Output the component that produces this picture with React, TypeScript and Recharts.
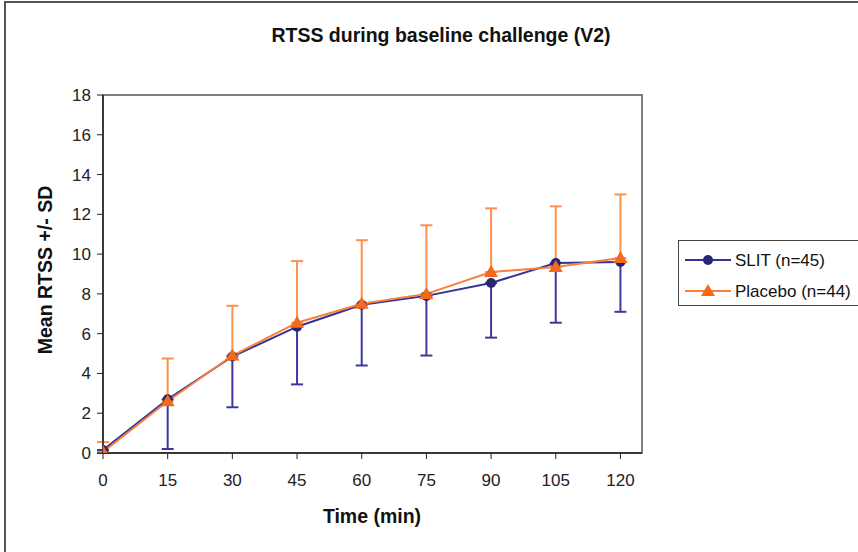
import { ErrorBar, Line, LineChart, ReferenceArea, XAxis, YAxis } from 'recharts';

const times = [0, 15, 30, 45, 60, 75, 90, 105, 120];
const slitMean = [0.15, 2.7, 4.85, 6.35, 7.45, 7.9, 8.55, 9.55, 9.6];
const slitSd = [0.15, 2.5, 2.55, 2.9, 3.05, 3.0, 2.75, 3.0, 2.5];
const placeboMean = [0.05, 2.6, 4.9, 6.55, 7.5, 8.0, 9.1, 9.35, 9.8];
const placeboSd = [0.5, 2.15, 2.5, 3.1, 3.2, 3.45, 3.2, 3.05, 3.2];
const xTicks = [0, 15, 30, 45, 60, 75, 90, 105, 120];
const yTicks = [0, 2, 4, 6, 8, 10, 12, 14, 16, 18];

// SLIT bars go down only, placebo bars go up only
const data = times.map((t, i) => ({
  t,
  slit: slitMean[i],
  slitErr: [slitSd[i], 0],
  placebo: placeboMean[i],
  placeboErr: [0, placeboSd[i]],
}));

const FONT = '"Liberation Sans", Arial, sans-serif';
const BLUE = '#333399';
const ORANGE = '#F7803A';
const TICK = { fill: '#222', fontSize: 17, fontFamily: FONT };

const Triangle = (props: any) => {
  const { cx, cy } = props;
  if (cx == null || cy == null) return null;
  return (
    <polygon
      points={`${cx},${cy - 7} ${cx - 7},${cy + 5} ${cx + 7},${cy + 5}`}
      fill="#F26A1A"
    />
  );
};

const LegendBox = () => (
  <div
    style={{
      position: 'absolute',
      left: 678,
      top: 240,
      width: 190,
      height: 66,
      border: '1.5px solid #444',
      background: '#fff',
      boxSizing: 'border-box',
    }}
  >
    <svg width={190} height={64} style={{ display: 'block' }}>
      <line x1={6} y1={19} x2={52} y2={19} stroke={BLUE} strokeWidth={2} />
      <circle cx={29} cy={19} r={5} fill="#262673" />
      <text x={56} y={25} fontSize={17} fontFamily={FONT} fill="#111">
        SLIT (n=45)
      </text>
      <line x1={6} y1={50} x2={52} y2={50} stroke={ORANGE} strokeWidth={2} />
      <polygon points="29,43 22,55 36,55" fill="#F26A1A" />
      <text x={56} y={56} fontSize={17} fontFamily={FONT} fill="#111">
        Placebo (n=44)
      </text>
    </svg>
  </div>
);

export default function App() {
  return (
    <div style={{ position: 'absolute', left: 0, top: 0, width: 858, height: 552, overflow: 'hidden', background: '#fff' }}>
      <svg width={858} height={552} style={{ position: 'absolute', left: 0, top: 0 }}>
        <rect x={5} y={2} width={900} height={600} fill="#fff" stroke="#555" strokeWidth={2} />
        <text x={441} y={42} textAnchor="middle" fontFamily={FONT} fontWeight="bold" fontSize={19.5} fill="#111">
          RTSS during baseline challenge (V2)
        </text>
        <text x={372} y={523} textAnchor="middle" fontFamily={FONT} fontWeight="bold" fontSize={19.5} fill="#111">
          Time (min)
        </text>
        <text
          x={52}
          y={270}
          textAnchor="middle"
          fontFamily={FONT}
          fontWeight="bold"
          fontSize={19.5}
          fill="#111"
          transform="rotate(-90, 52, 270)"
        >
          Mean RTSS +/- SD
        </text>
      </svg>
      <div style={{ position: 'absolute', left: 0, top: 0 }}>
        <LineChart width={858} height={552} data={data} margin={{ top: 95, right: 216, bottom: 59, left: 0 }}>
          <ReferenceArea x1={0} x2={125} y1={0} y2={18} fill="none" stroke="#555" strokeWidth={1.5} ifOverflow="visible" />
          <XAxis
            dataKey="t"
            type="number"
            domain={[0, 125]}
            ticks={xTicks}
            height={40}
            tick={TICK}
            tickSize={6}
            tickMargin={15}
            axisLine={{ stroke: '#222', strokeWidth: 1.5 }}
            tickLine={{ stroke: '#222' }}
            allowDataOverflow
          />
          <YAxis
            type="number"
            domain={[0, 18]}
            ticks={yTicks}
            width={103}
            tick={TICK}
            tickSize={6}
            tickMargin={6}
            axisLine={{ stroke: '#222', strokeWidth: 1.5 }}
            tickLine={{ stroke: '#222' }}
            allowDataOverflow
          />
          <Line
            dataKey="slit"
            name="SLIT (n=45)"
            stroke={BLUE}
            strokeWidth={2}
            dot={{ r: 5, fill: '#262673', stroke: '#262673', strokeWidth: 0 }}
            isAnimationActive={false}
          >
            <ErrorBar dataKey="slitErr" direction="y" width={6} stroke="#3A3A9E" strokeWidth={2} />
          </Line>
          <Line
            dataKey="placebo"
            name="Placebo (n=44)"
            stroke={ORANGE}
            strokeWidth={2}
            dot={<Triangle />}
            isAnimationActive={false}
          >
            <ErrorBar dataKey="placeboErr" direction="y" width={6} stroke="#FF8F4C" strokeWidth={2} />
          </Line>
        </LineChart>
      </div>
      <LegendBox />
    </div>
  );
}
